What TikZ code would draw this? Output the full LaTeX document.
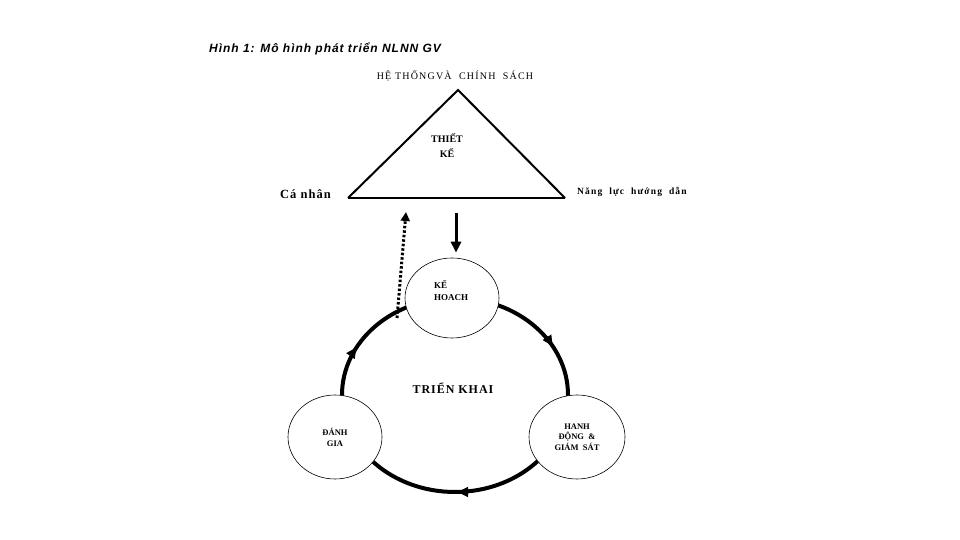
\documentclass[tikz,border=0pt]{standalone}
\usepackage{fontspec}
\setmainfont{Liberation Serif}
\newfontfamily\titlefont{Liberation Sans}
\usetikzlibrary{shapes.geometric,arrows.meta,decorations.markings}
\newcommand{\spaced}[1]{\addfontfeature{LetterSpace=#1}}
\tikzset{
  lbl/.style={font=\bfseries\fontsize{9}{11}\selectfont, inner sep=0pt},
  bubble/.style={ellipse, draw, line width=0.6pt, fill=white, inner sep=0pt,
    font=\bfseries\fontsize{8.5}{11}\selectfont, align=center},
  cyclearc/.style={line width=4pt,
    postaction={decorate},
    decoration={markings,
      mark=at position 0.175 with {\arrow{Latex[length=13pt,width=11pt]}},
      mark=at position 0.5 with {\arrow{Latex[length=13pt,width=11pt]}},
      mark=at position 0.83 with {\arrow{Latex[length=13pt,width=11pt]}}}},
}
\begin{document}
\begin{tikzpicture}[x=1pt,y=1pt]
\useasboundingbox (0,0) rectangle (960,540);
\fill[white] (0,0) rectangle (960,540);
% title
\node[anchor=west, inner sep=0pt, font=\titlefont\bfseries\itshape\fontsize{12}{14}\selectfont\spaced{8}] (title) at (209,491) {Hình 1: Mô hình phát triển NLNN GV};
% triangle
\coordinate (apex) at (458,450);
\coordinate (bl) at (348,342);
\coordinate (br) at (565,342);
\draw[line width=2pt, line join=miter] (bl) -- (apex) -- (br);
\draw[line width=2.6pt] (bl) -- (br);
\node[inner sep=0pt, font=\fontsize{10}{12}\selectfont\spaced{12}] (sys) at (455,464) {HỆ THỐNGVÀ\ \ CHÍNH\ \ SÁCH};
\node[lbl, anchor=west, font=\bfseries\fontsize{12.5}{14}\selectfont\spaced{8}] (canhan) at (280,346) {Cá nhân};
\node[lbl, anchor=west, font=\bfseries\fontsize{9.5}{11}\selectfont\spaced{12}] (nangluc) at (577,348) {Năng\ \ lực\ \ hướng\ \ dẫn};
\node[lbl, align=center, font=\bfseries\fontsize{10}{15}\selectfont] (thietke) at (447,394) {THIẾT\\KẾ};
% big cycle
\coordinate (cc) at (455,145);
\draw[cyclearc] ([shift={(cc)}]90:113 and 97) arc[start angle=90, end angle=-270, x radius=113, y radius=97];
% bubbles
\node[bubble, minimum width=94pt, minimum height=80pt] (kh) at (452,242) {};
\node[lbl, align=left, font=\bfseries\fontsize{9}{12}\selectfont] (khtext) at (451,249) {KẾ\\HOACH};
\node[bubble, minimum width=94pt, minimum height=84pt] (dg) at (335,103) {ĐÁNH\\GIA};
\node[bubble, minimum width=96pt, minimum height=84pt, font=\bfseries\fontsize{8.5}{10.5}\selectfont] (hd) at (577,103) {HANH\\ĐỘNG\ \ \&\\GIÁM\ \ SÁT};
\node[lbl, font=\bfseries\fontsize{12}{14}\selectfont\spaced{8}] (tk) at (453,152) {TRIỂN KHAI};
% arrows
\coordinate (down0) at (456,327);
\draw[line width=3pt, -{Triangle[length=11pt,width=10pt]}, shorten >=5pt] (down0) -- (kh.north -| down0);
\coordinate (dotstart) at (397,222);
\coordinate (dotend) at (406,328);
\draw[line width=3pt, dash pattern=on 2.5pt off 2pt, -{Triangle[length=9pt,width=9pt]}] (dotstart) -- (dotend);
\end{tikzpicture}
\end{document}
